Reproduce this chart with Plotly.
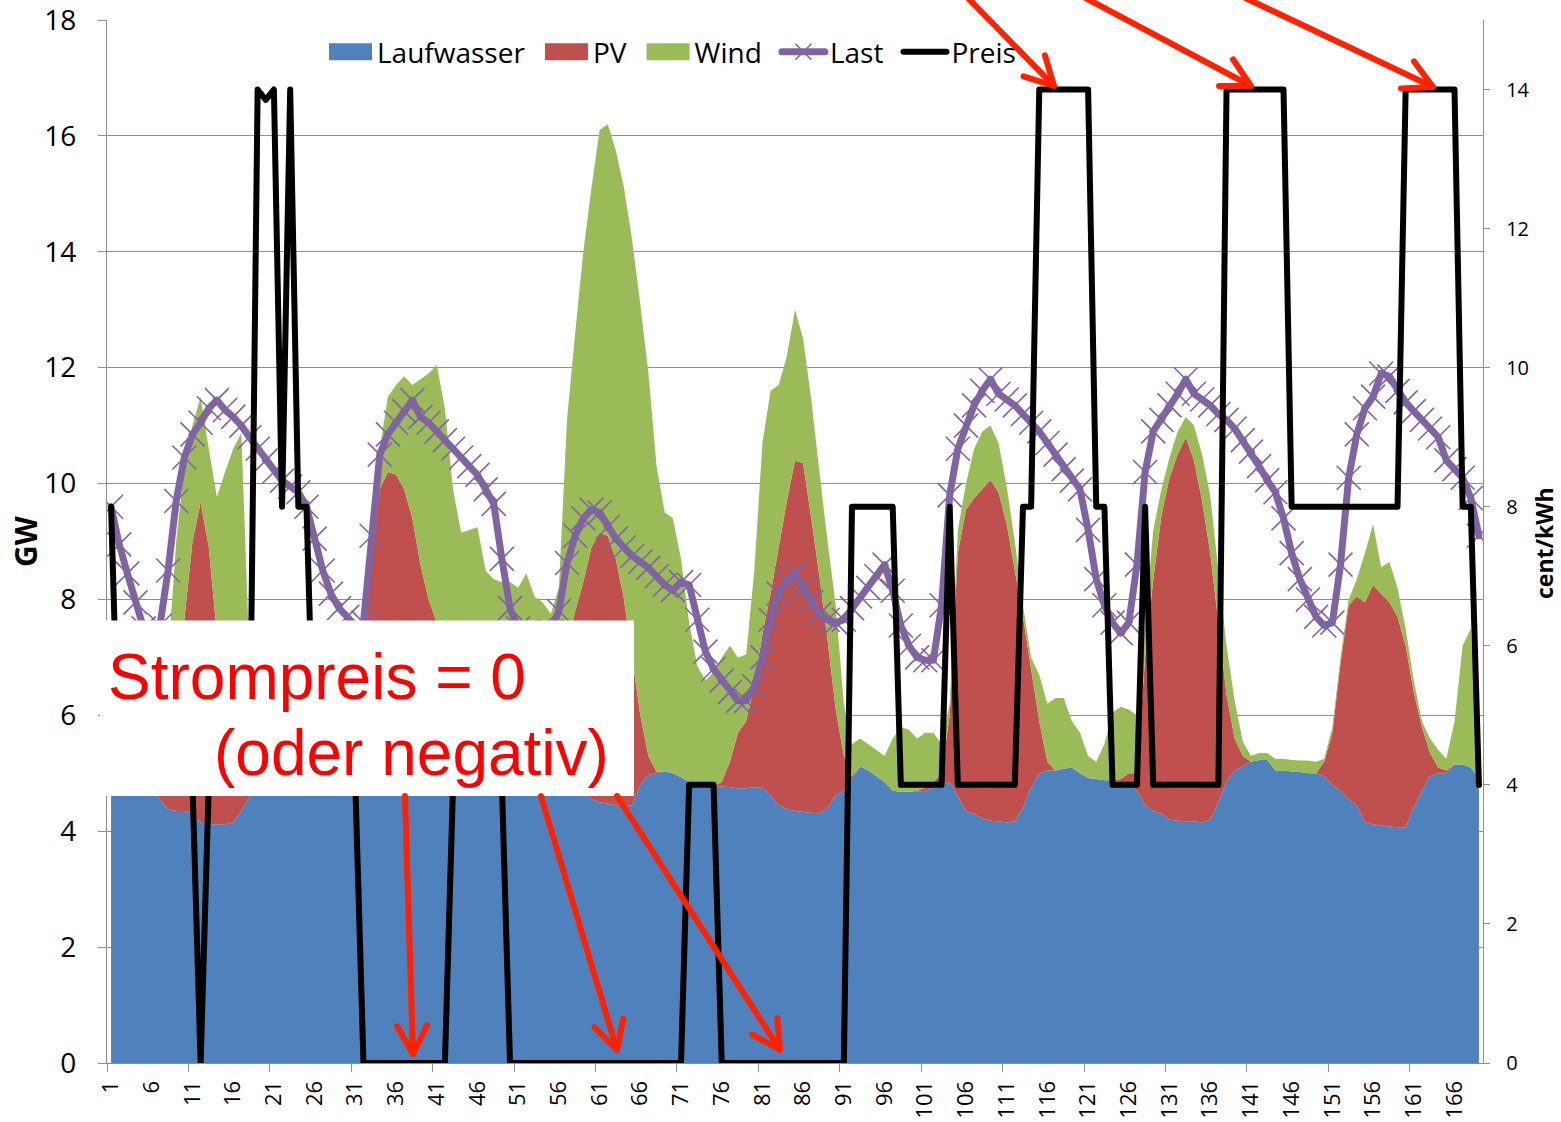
import math
import plotly.graph_objects as go

# ---------------- data ----------------
hours = list(range(1, 170))
tick_positions = list(range(1, 167, 5))
tick_labels = [str(v) for v in tick_positions]
boundary_ticks = [0.5, 10.5, 20.5, 30.5, 40.5, 50.5, 60.5, 70.5, 80.5, 90.5,
                  100.5, 110.5, 120.5, 130.5, 140.5, 150.5, 160.5]
series_names = ["Laufwasser", "PV", "Wind", "Last", "Preis"]

laufwasser = [
    4.85, 4.85, 4.85, 4.8, 4.8, 4.75,
    4.55, 4.38, 4.35, 4.35, 4.3, 4.15, 4.12, 4.12, 4.12, 4.15, 4.35, 4.6, 4.75,
    4.78, 4.8, 4.8, 4.82, 4.82, 4.83, 4.83, 4.82, 4.8, 4.8,
    4.8, 4.8, 4.8, 4.8, 4.8, 4.8, 4.8, 4.8, 4.8, 4.8,
    4.8, 4.8, 4.8, 4.8, 4.8, 4.8, 4.8, 4.8, 4.8, 4.8,
    4.8, 4.8, 4.8, 4.8, 4.8, 4.8, 4.8, 4.8,
    4.75, 4.7, 4.55, 4.5, 4.48, 4.45, 4.45, 4.45, 4.8, 4.97, 5.0,
    5.03, 5.0, 4.93, 4.85, 4.8, 4.77, 4.77, 4.77, 4.76, 4.74, 4.74, 4.76, 4.75, 4.62,
    4.45, 4.38, 4.35, 4.33, 4.32, 4.31, 4.4, 4.62, 4.7, 4.9,
    5.12, 5.05, 4.95, 4.85, 4.7, 4.68, 4.68, 4.68, 4.7, 4.75, 4.8, 4.85, 4.6, 4.35,
    4.3, 4.22, 4.18, 4.17, 4.15, 4.17, 4.4, 4.75, 5.0, 5.05,
    5.05, 5.08, 5.1, 5.0, 4.92, 4.9, 4.88, 4.88, 4.85, 4.8, 4.7, 4.45, 4.35, 4.3,
    4.2, 4.18, 4.17, 4.17, 4.15, 4.2, 4.5, 4.85, 5.05, 5.12,
    5.2, 5.23, 5.23, 5.05, 5.05, 5.03, 5.02, 5.0, 5.0, 4.95, 4.8, 4.7, 4.55, 4.45,
    4.15, 4.12, 4.1, 4.08, 4.07, 4.07, 4.4, 4.7, 4.95, 5.0, 5.0, 5.15, 5.15, 5.1, 4.9,
]

pv = [
    0, 0, 0, 0, 0, 0.05,
    0.25, 0.92, 1.95, 3.3, 4.7, 5.53, 4.78, 3.28, 2.38, 1.65, 0.85, 0.15,
    0, 0, 0, 0, 0, 0, 0, 0, 0, 0,
    0.1, 0.5, 1.2, 2.2, 3.8, 5.1, 5.4, 5.35, 5.1, 4.6, 3.8, 3.2, 2.8, 2.0, 1.2, 0.6, 0.2, 0.05,
    0, 0, 0, 0, 0, 0, 0,
    0.1, 0.4, 1.4, 2.4, 3.05, 3.6, 4.35, 4.65, 4.62, 4.25, 3.55, 2.55, 1.2, 0.33, 0.02,
    0, 0, 0, 0, 0, 0, 0,
    0.08, 0.44, 0.96, 1.16, 1.74, 2.65, 3.48, 4.45, 5.32, 6.05, 6.02, 5.08, 4.09, 2.9, 1.48, 0.6, 0.05,
    0, 0, 0, 0, 0, 0, 0,
    0.02, 0.05, 0.1, 0.2, 1.15, 4.2, 5.2, 5.45, 5.68, 5.88, 5.68, 5.15, 4.33, 3.3, 2.05, 0.9, 0.15,
    0, 0, 0, 0, 0, 0, 0, 0,
    0.05, 0.2, 0.3, 2.55, 3.99, 5.15, 5.9, 6.32, 6.63, 6.23, 5.55, 4.6, 3.1, 1.5, 0.55, 0.18,
    0, 0, 0, 0, 0, 0, 0, 0, 0,
    0.25, 0.9, 2.2, 3.35, 3.6, 3.8, 4.13, 4.0, 3.87, 3.63, 3.13, 2.0, 1.1, 0.4, 0.1, 0.05,
    0, 0, 0, 0,
]

wind = [
    0.6, 0.6, 0.6, 0.6, 0.7, 0.8, 0.8, 1.7, 2.7, 2.65, 2.0, 1.82, 1.7, 2.37, 3.7, 4.8, 5.67, 2.25, 1.0,
    1.0, 1.1, 1.1, 1.2, 1.2, 1.2, 1.3, 1.4, 1.5, 1.6, 1.6, 1.2, 0.6, 0.7, 0.7, 1.3, 1.55, 1.95, 2.3, 3.2, 3.9,
    4.45, 4.5, 3.9, 3.75, 4.2, 4.4, 3.7, 3.55, 3.5, 3.5, 3.4, 3.65, 3.25, 3.05, 2.55, 2.0, 3.9, 4.8, 5.7, 6.2,
    6.95, 7.1, 7.05, 7.1, 7.2, 7.1, 6.6, 5.28, 4.47, 4.4, 3.77, 2.75, 2.05, 1.83, 1.98, 2.15, 2.0, 1.3, 1.15, 2.0,
    3.3, 3.5, 2.8, 2.5, 2.6, 2.15, 2.05, 1.8, 1.7, 1.8, 0.9, 0.55, 0.48, 0.45, 0.45, 0.45, 0.9, 1.12, 1.07, 0.9,
    0.95, 0.85, 0.5, 0.2, 0.4, 0.45, 0.85, 1.0, 0.94, 0.85, 0.65, 0.5, 0.2, 0.2, 0.8, 1.0, 1.25, 1.22, 0.8, 0.7,
    0.38, 0.3, 0.62, 1.17, 1.25, 1.1, 1.0, 0.6, 0.86, 0.45, 0.35, 0.4, 0.35, 0.6, 0.8, 1.0, 0.9, 0.85, 0.65, 0.25,
    0.1, 0.12, 0.12, 0.2, 0.2, 0.2, 0.2, 0.22, 0.2, 0.05, 0.1, 0.1, 0.1, 0.3, 0.85, 1.05, 0.45, 0.7, 0.5, 0.3,
    0.2, 0.1, 0.25, 0.3, 0.2, 0.75, 2.05, 2.4, 0.05,
]

last = [
    9.6, 8.95, 8.45, 7.95, 7.5, 7.3, 7.55, 8.5, 9.7, 10.45,
    10.85, 11.05, 11.3, 11.44, 11.27, 11.15, 11.0, 10.8, 10.6, 10.4,
    10.2, 10.05, 9.95, 9.85, 9.6, 9.05, 8.5, 8.1, 7.85, 7.7,
    7.55, 7.6, 9.1, 10.5, 10.85, 11.05, 11.25, 11.44, 11.15, 11.05,
    10.9, 10.75, 10.6, 10.45, 10.3, 10.15, 9.9, 9.65, 8.7, 7.85,
    7.5, 7.3, 7.2, 7.25, 7.45, 7.8, 8.63, 9.1, 9.4, 9.55,
    9.5, 9.25, 9.05, 8.9, 8.75, 8.65, 8.55, 8.4, 8.25, 8.16,
    8.3, 8.25, 7.65, 7.1, 6.8, 6.6, 6.4, 6.25, 6.25, 6.5,
    7.0, 7.65, 8.1, 8.35, 8.45, 8.2, 7.95, 7.75, 7.65, 7.6,
    7.65, 7.85, 8.05, 8.2, 8.4, 8.6, 8.15, 7.55, 7.2, 7.0,
    6.95, 6.95, 7.9, 9.8, 10.6, 11.0, 11.35, 11.6, 11.8, 11.55,
    11.45, 11.35, 11.2, 11.05, 10.9, 10.7, 10.5, 10.25, 10.05, 9.9,
    9.2, 8.35, 7.9, 7.6, 7.42, 7.6, 8.6, 10.2, 10.9, 11.1,
    11.35, 11.55, 11.8, 11.55, 11.45, 11.35, 11.2, 11.1, 10.95, 10.75,
    10.55, 10.3, 10.06, 9.85, 9.4, 8.8, 8.35, 8.0, 7.7, 7.55,
    7.6, 8.6, 10.1, 10.85, 11.3, 11.5, 11.9, 11.85, 11.6, 11.4,
    11.25, 11.1, 10.95, 10.8, 10.4, 10.25, 10.1, 9.75, 9.1,
]

preis = [
    8, 4, 4, 4, 4, 4, 4, 4, 4, 4,
    4, 0, 4, 4, 4, 4, 4, 4, 14, 13.85,
    14, 8, 14, 8, 8, 4, 4, 4, 4, 4,
    4, 0, 0, 0, 0, 0, 0, 0, 0, 0,
    0, 0, 4, 4, 4, 4, 4, 4, 4, 0,
    0, 0, 0, 0, 0, 0, 0, 0, 0, 0,
    0, 0, 0, 0, 0, 0, 0, 0, 0, 0,
    0, 4, 4, 4, 4, 0, 0, 0, 0, 0,
    0, 0, 0, 0, 0, 0, 0, 0, 0, 0,
    0, 8, 8, 8, 8, 8, 8, 4, 4, 4,
    4, 4, 4, 8, 4, 4, 4, 4, 4, 4,
    4, 4, 8, 8, 14, 14, 14, 14, 14, 14,
    14, 8, 8, 4, 4, 4, 4, 8, 4, 4,
    4, 4, 4, 4, 4, 4, 4, 14, 14, 14,
    14, 14, 14, 14, 14, 8, 8, 8, 8, 8,
    8, 8, 8, 8, 8, 8, 8, 8, 8, 14,
    14, 14, 14, 14, 14, 14, 8, 8, 4,
]

for arr in (laufwasser, pv, wind, last, preis):
    assert len(arr) == len(hours), len(arr)

# ---------------- styling ----------------
W, H = 1561, 1122
PL, PR, PT, PB = 107, 1483, 20, 1063
GRID = "#8E8E8E"
FONT = "Open Sans, Noto Sans, sans-serif"
RED = "#FF2200"
GAP = "\u00a0\u200a"


def px(x):
    return (x - PL) / (PR - PL)


def py(y):
    return (PB - y) / (PB - PT)


fig = go.Figure()
fig.add_trace(go.Scatter(x=hours, y=laufwasser, name=series_names[0] + GAP, stackgroup="gen",
                         mode="none", fillcolor="#4F81BD", hoverinfo="skip"))
fig.add_trace(go.Scatter(x=hours, y=pv, name=series_names[1] + GAP, stackgroup="gen",
                         mode="none", fillcolor="#C0504D", hoverinfo="skip"))
fig.add_trace(go.Scatter(x=hours, y=wind, name=series_names[2] + GAP, stackgroup="gen",
                         mode="none", fillcolor="#9BBB59", hoverinfo="skip"))
fig.add_trace(go.Scatter(x=hours, y=last, name=series_names[3] + GAP, mode="lines+markers",
                         line=dict(color="#8064A2", width=7),
                         marker=dict(symbol="x-thin", size=24, color="#8064A2",
                                     line=dict(color="#8064A2", width=1.6)),
                         hoverinfo="skip"))
fig.add_trace(go.Scatter(x=hours, y=preis, name=series_names[4], mode="lines", yaxis="y2",
                         line=dict(color="black", width=6), hoverinfo="skip"))


def arrow_path(x0, y0, x1, y1, head=32, ang=28):
    dx, dy = x0 - x1, y0 - y1
    L = math.hypot(dx, dy)
    ux, uy = dx / L, dy / L
    pts = []
    for s in (1, -1):
        a = math.radians(ang * s)
        wx = ux * math.cos(a) - uy * math.sin(a)
        wy = ux * math.sin(a) + uy * math.cos(a)
        pts.append((x1 + wx * head, y1 + wy * head))
    p = (f"M {px(x0)},{py(y0)} L {px(x1)},{py(y1)} "
         f"M {px(pts[0][0])},{py(pts[0][1])} L {px(x1)},{py(y1)} "
         f"L {px(pts[1][0])},{py(pts[1][1])}")
    return dict(type="path", xref="paper", yref="paper", path=p,
                line=dict(color=RED, width=6), layer="above")


shapes = [
    dict(type="rect", xref="paper", yref="paper", x0=px(100), x1=px(634),
         y0=py(796), y1=py(620.5), fillcolor="white", line=dict(width=0), layer="above"),
]
arrows = [
    (964, -6, 1054, 86), (1078, -6, 1251, 86), (1237, -6, 1433, 87),
    (405, 796, 413, 1054), (541, 796, 617, 1050), (617, 796, 780, 1050),
]
for a in arrows:
    shapes.append(arrow_path(*a))

annotations = [
    dict(text="Strompreis = 0", x=px(106), y=py(677), xref="paper", yref="paper",
         xanchor="left", yanchor="middle", showarrow=False,
         font=dict(family="Liberation Sans, Arial, sans-serif", size=64, color="#FF0000")),
    dict(text="(oder negativ)", x=px(212), y=py(753), xref="paper", yref="paper",
         xanchor="left", yanchor="middle", showarrow=False,
         font=dict(family="Liberation Sans, Arial, sans-serif", size=64, color="#FF0000")),
    dict(text="<b>GW</b>", x=px(25), y=py(542), xref="paper", yref="paper",
         textangle=-90, showarrow=False, xanchor="center", yanchor="middle",
         font=dict(family=FONT, size=30, color="black")),
    dict(text="<b>cent/kWh</b>", x=px(1544), y=py(543), xref="paper", yref="paper",
         textangle=-90, showarrow=False, xanchor="center", yanchor="middle",
         font=dict(family=FONT, size=23, color="black")),
]

fig.update_layout(
    width=W, height=H,
    margin=dict(l=PL, r=W - PR, t=PT, b=H - PB, pad=0, autoexpand=False),
    paper_bgcolor="white", plot_bgcolor="white",
    showlegend=True,
    legend=dict(orientation="h", x=px(324), y=py(52), xanchor="left", yanchor="middle",
                font=dict(family=FONT, size=28, color="black"),
                bgcolor="rgba(0,0,0,0)", traceorder="normal", itemwidth=43),
    xaxis=dict(range=[0.5, 169.5], tickmode="array", tickvals=tick_positions,
               ticktext=tick_labels, tickangle=-90, ticks="", showgrid=False,
               showline=True, linecolor=GRID, linewidth=1.3, zeroline=False,
               automargin=False,
               tickfont=dict(family=FONT, size=22, color="black"),
               ticklabelstandoff=8,
               minor=dict(tickmode="array", tickvals=boundary_ticks, ticks="outside",
                          ticklen=8, tickcolor=GRID, tickwidth=1.3, showgrid=False)),
    yaxis=dict(range=[0, 18.0002], tickmode="array",
               tickvals=[0, 2, 4, 6, 8, 10, 12, 14, 16, 18], showgrid=True,
               gridcolor=GRID, gridwidth=1.3, showline=True, linecolor=GRID, linewidth=1.3,
               ticks="outside", ticklen=8, tickcolor=GRID, tickwidth=1.3, zeroline=False,
               ticklabeloverflow="allow", automargin=False,
               tickfont=dict(family=FONT, size=28, color="black"), ticklabelstandoff=16),
    yaxis2=dict(range=[0, 15.00017], tickmode="array", tickvals=[0, 2, 4, 6, 8, 10, 12, 14],
                overlaying="y", side="right", showgrid=False, showline=True,
                linecolor=GRID, linewidth=1.3, ticks="outside", ticklen=6,
                tickcolor=GRID, tickwidth=1.3, zeroline=False, automargin=False,
                tickfont=dict(family=FONT, size=20, color="black"), ticklabelstandoff=12),
    shapes=shapes,
    annotations=annotations,
)

post = """
document.body.style.margin='0';
document.querySelectorAll('path.js-line').forEach(function(p){p.style.strokeLinejoin='round';p.style.strokeLinecap='round';});
document.querySelectorAll('.shapelayer path').forEach(function(p){p.style.strokeLinejoin='round';p.style.strokeLinecap='round';});
document.querySelectorAll('.legend .legendfill path').forEach(function(p){
  try { var b = p.getBBox(); if (b.width > 0) { p.setAttribute('d', 'M' + b.x + ',-8.5h' + b.width + 'v17h-' + b.width + 'z'); } } catch(e) {}
});
"""
fig.write_html("out.html", post_script=post, config={"displayModeBar": False})
